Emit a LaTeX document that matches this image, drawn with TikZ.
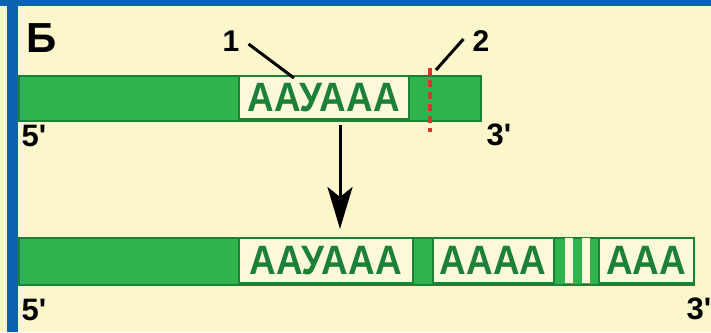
\documentclass[tikz,border=0pt]{standalone}
\usepackage{fontspec}
\usepackage{graphicx}
\setmainfont{Liberation Sans}
\usetikzlibrary{arrows.meta,positioning}
\definecolor{paper}{HTML}{FCF7CB}
\definecolor{frameblue}{HTML}{0B63B0}
\definecolor{dnagreen}{HTML}{2FB34C}
\definecolor{darkgreen}{HTML}{1C8136}
\definecolor{boxfill}{HTML}{FCF9DA}
\definecolor{cutred}{HTML}{D8362C}
\tikzset{
  bar/.style={draw=darkgreen, line width=1.5pt, fill=dnagreen, inner sep=0pt, anchor=north west},
  seqbox/.style={draw=darkgreen, line width=1.5pt, fill=boxfill, inner sep=0pt, anchor=west,
    text=darkgreen, font=\bfseries\fontsize{41}{41}\selectfont},
  gapstrip/.style={fill=boxfill, inner sep=0pt, anchor=west},
  endlabel/.style={font=\bfseries\fontsize{31}{31}\selectfont, inner sep=0pt},
  numlabel/.style={font=\bfseries\fontsize{30}{30}\selectfont, inner sep=0pt},
  pointer/.style={line width=3pt},
}
\newcommand{\prm}{\textquotesingle}
\newcommand{\seqtext}[1]{\scalebox{0.9}[1]{#1}}
\begin{document}
\begin{tikzpicture}[x=1pt, y=-1pt]
  \useasboundingbox (0,0) rectangle (711,332);
  % background and frame
  \fill[paper] (0,0) rectangle (711,332);
  \fill[frameblue] (0,0) rectangle (711,6);
  \fill[frameblue] (7,0) rectangle (18,332);
  \node[font=\bfseries\fontsize{42}{42}\selectfont, inner sep=0pt] (title) at (42,38) {Б};
  % pre-mRNA
  \node[bar, minimum width=462pt, minimum height=45pt] (bar1) at (18,75) {};
  \node[seqbox, minimum width=170pt, minimum height=43pt] (box1) at (238,97.5) {\seqtext{ААУААА}};
  \node[endlabel] (five1) at (34,136) {5\prm};
  \node[endlabel] (three1) at (499,135) {3\prm};
  % cleavage site
  \coordinate (cut1) at (430,68);
  \coordinate (cut2) at (430,132);
  \draw[cutred, line width=4.5pt, dash pattern=on 7pt off 5pt] (cut1) -- (cut2);
  % labels 1 and 2
  \node[numlabel] (lab1) at (231,41) {1};
  \node[numlabel] (lab2) at (481,41) {2};
  \coordinate (tip1) at (294,78);
  \coordinate (tip2) at (436,70);
  \draw[pointer] ([shift={(9,3)}]lab1.east) -- (tip1);
  \draw[pointer] (tip2) -- ([shift={(-9,-2)}]lab2.west);
  % mature mRNA
  \node[bar, minimum width=675pt, minimum height=47pt] (bar2) at (18,237) {};
  \node[seqbox, minimum width=174pt, minimum height=45pt] (box2) at (238,260.5) {\seqtext{ААУААА}};
  \node[seqbox, minimum width=121pt, minimum height=45pt] (box3) at (432,260.5) {\seqtext{АААА}};
  \node[gapstrip, minimum width=8pt, minimum height=45pt] (gapa) at (565,260.5) {};
  \node[gapstrip, minimum width=8pt, minimum height=45pt] (gapb) at (582,260.5) {};
  \node[seqbox, minimum width=95pt, minimum height=45pt] (box4) at (598,260.5) {\seqtext{ААА}};
  \node[endlabel] (five2) at (34,310) {5\prm};
  \node[endlabel] (three2) at (699,309) {3\prm};
  % processing arrow
  \coordinate (arrtop) at (340,125);
  \draw[line width=3pt, -{Stealth[length=42pt, width=25pt, inset=10pt]}, shorten >=8pt]
    (arrtop) -- (arrtop |- bar2.north);
\end{tikzpicture}
\end{document}
